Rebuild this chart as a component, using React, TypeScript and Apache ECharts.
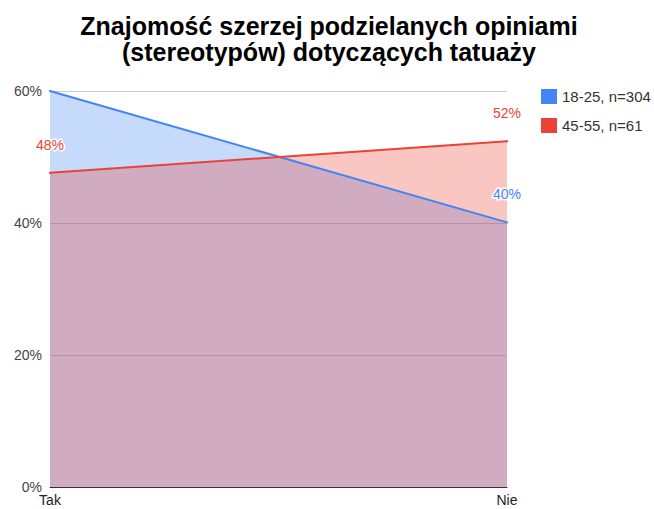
import React, { useEffect, useRef } from "react";
import * as echarts from "echarts";

const categories = ["Tak", "Nie"];
const youngValues = [60, 40.1];
const olderValues = [47.6, 52.4];
const youngLabelShown = [false, true];
const olderLabelShown = [true, true];
const seriesNames = ["18-25, n=304", "45-55, n=61"];
const yTicks = [0, 20, 40, 60];

const BLUE = "#4285f4";
const RED = "#ea4335";
const FONT = "'Liberation Sans', Arial, sans-serif";

function makeData(values: number[], shown: boolean[]) {
  return values.map((v, i) => ({ value: v, label: { show: shown[i] } }));
}

export default function App() {
  const ref = useRef<HTMLDivElement>(null);
  useEffect(() => {
    if (!ref.current) return;
    const chart = echarts.init(ref.current, null, { renderer: "svg" });
    const labelCfg = (color: string) => ({
      position: "top" as const,
      distance: 20,
      color,
      fontSize: 14,
      fontFamily: FONT,
      textBorderColor: "#fff",
      textBorderWidth: 3,
      formatter: (p: any) => Math.round(p.value) + "%",
    });
    const areaSeries = (name: string, values: number[], color: string, z: number) => ({
      name,
      type: "line",
      data: values,
      symbol: "none",
      lineStyle: { width: 0, color },
      itemStyle: { color },
      areaStyle: { color, opacity: 0.3 },
      z,
      silent: true,
    });
    const lineSeries = (name: string, values: number[], shown: boolean[], color: string, z: number) => ({
      name,
      type: "line",
      data: makeData(values, shown),
      symbol: "circle",
      symbolSize: 2,
      showSymbol: true,
      itemStyle: { color },
      lineStyle: { color, width: 2 },
      label: labelCfg(color),
      z,
    });
    chart.setOption({
      animation: false,
      backgroundColor: "#fff",
      title: {
        text: "Znajomość szerzej podzielanych opiniami\n(stereotypów) dotyczących tatuaży",
        left: 324,
        textAlign: "center",
        top: 8,
        textStyle: {
          fontFamily: FONT,
          fontWeight: "bold",
          fontSize: 25,
          lineHeight: 26,
          color: "#000",
        },
      },
      legend: {
        orient: "vertical",
        left: 536,
        top: 84,
        icon: "rect",
        itemWidth: 16,
        itemHeight: 15,
        itemGap: 14,
        itemStyle: { borderRadius: 2 },
        textStyle: { fontFamily: FONT, fontSize: 15, color: "#333" },
        data: seriesNames.map((n, i) => ({ name: n, itemStyle: { color: i === 0 ? BLUE : RED, opacity: 1 } })),
      },
      grid: { left: 50, right: 147, top: 91, bottom: 22, containLabel: false },
      xAxis: {
        type: "category",
        data: categories,
        boundaryGap: false,
        axisLine: { show: true, lineStyle: { color: "#333", width: 1 } },
        axisTick: { show: false },
        axisLabel: { fontFamily: FONT, fontSize: 14, color: "#222", margin: 6 },
        splitLine: { show: false },
      },
      yAxis: {
        type: "value",
        min: yTicks[0],
        max: yTicks[yTicks.length - 1],
        interval: 20,
        axisLine: { show: false },
        axisTick: { show: false },
        axisLabel: {
          fontFamily: FONT,
          fontSize: 14,
          color: "#444",
          margin: 8,
          formatter: (v: number) => v + "%",
        },
        splitLine: { lineStyle: { color: "#cccccc", width: 1 } },
      },
      series: [
        areaSeries(seriesNames[0], youngValues, BLUE, 2),
        areaSeries(seriesNames[1], olderValues, RED, 3),
        lineSeries(seriesNames[0], youngValues, youngLabelShown, BLUE, 4),
        lineSeries(seriesNames[1], olderValues, olderLabelShown, RED, 5),
      ],
    });
    return () => chart.dispose();
  }, []);
  return <div ref={ref} style={{ width: 654, height: 509, position: "absolute", left: 0, top: 0 }} />;
}
